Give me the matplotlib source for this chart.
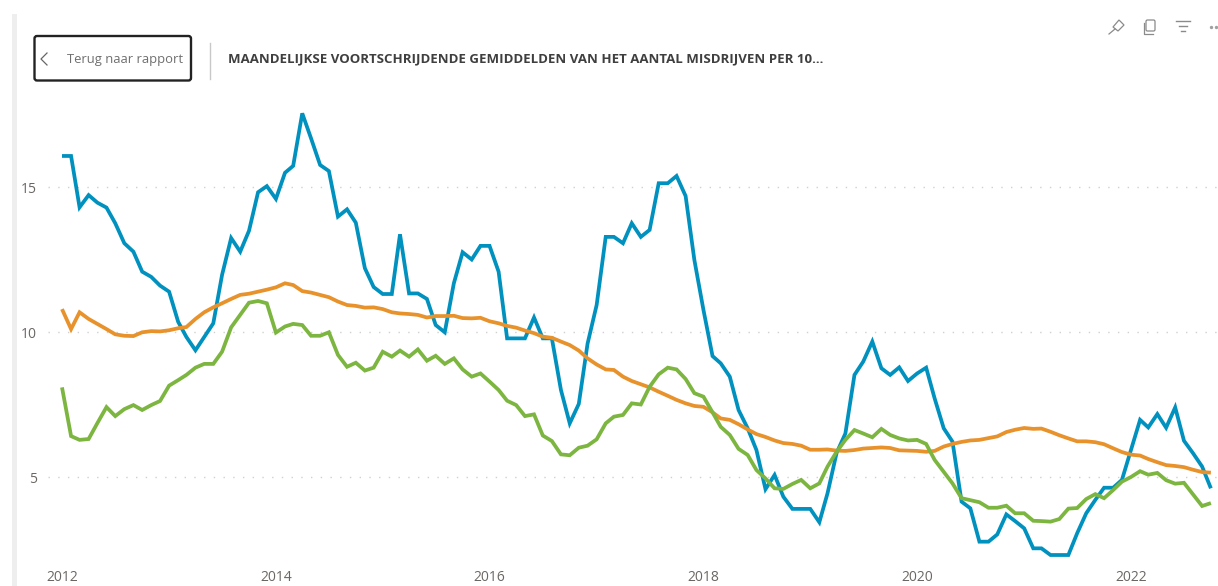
import matplotlib
matplotlib.use("Agg")
import matplotlib.pyplot as plt
import matplotlib.dates as mdates
from matplotlib.patches import FancyBboxPatch, Rectangle, Polygon
import pandas as pd

blue = [16.07,16.07,14.3,14.72,14.46,14.29,13.75,13.06,12.77,12.08,11.9,11.6,11.39,10.35,9.83,9.37,9.83,10.3,11.97,13.24,
        12.77,13.49,14.82,15.03,14.59,15.49,15.73,17.54,16.68,15.76,15.55,13.98,14.23,13.77,12.2,11.55,11.31,11.31,13.37,11.33,
        11.33,11.14,10.24,9.99,11.68,12.75,12.5,12.97,12.97,12.08,9.78,9.78,9.78,10.5,9.78,9.78,8.0,6.85,7.52,9.6,
        10.93,13.28,13.28,13.06,13.75,13.28,13.52,15.13,15.13,15.38,14.69,12.48,10.76,9.17,8.92,8.46,7.31,6.68,5.93,4.58,
        5.07,4.32,3.9,3.9,3.9,3.44,4.44,5.83,6.5,8.52,8.98,9.67,8.75,8.52,8.78,8.31,8.57,8.77,7.71,6.68,
        6.22,4.15,3.92,2.77,2.77,3.02,3.71,3.48,3.23,2.54,2.54,2.31,2.31,2.31,3.06,3.75,4.21,4.63,4.63,4.9,
        5.93,6.97,6.71,7.17,6.7,7.4,6.25,5.82,5.36,4.61]
orange = [10.79,10.1,10.68,10.45,10.28,10.1,9.92,9.87,9.86,9.99,10.03,10.02,10.06,10.13,10.17,10.45,10.68,10.85,10.99,11.14,
          11.28,11.32,11.39,11.46,11.54,11.68,11.62,11.41,11.36,11.28,11.2,11.05,10.93,10.9,10.84,10.85,10.79,10.68,10.64,10.62,
          10.59,10.5,10.55,10.55,10.56,10.48,10.47,10.49,10.37,10.3,10.21,10.15,10.05,9.96,9.84,9.8,9.67,9.55,9.36,9.09,
          8.88,8.71,8.69,8.46,8.31,8.2,8.09,7.94,7.8,7.66,7.54,7.45,7.42,7.23,7.02,6.97,6.82,6.64,6.48,6.38,
          6.26,6.17,6.14,6.08,5.94,5.94,5.95,5.91,5.9,5.93,5.98,6.0,6.02,6.0,5.92,5.91,5.9,5.87,5.9,6.05,
          6.14,6.21,6.26,6.28,6.34,6.4,6.55,6.63,6.69,6.66,6.67,6.56,6.44,6.33,6.23,6.23,6.2,6.13,5.99,5.86,
          5.77,5.74,5.62,5.51,5.41,5.38,5.34,5.25,5.17,5.15]
green = [8.09,6.41,6.28,6.31,6.86,7.41,7.1,7.34,7.48,7.31,7.48,7.62,8.15,8.34,8.52,8.77,8.9,8.9,9.32,10.16,
         10.59,11.01,11.07,10.99,9.98,10.19,10.28,10.24,9.87,9.87,9.99,9.21,8.8,8.94,8.67,8.77,9.32,9.15,9.36,9.15,
         9.4,9.01,9.18,8.9,9.09,8.71,8.46,8.57,8.29,8.0,7.63,7.48,7.1,7.16,6.43,6.24,5.78,5.75,6.01,6.08,
         6.3,6.85,7.08,7.14,7.54,7.5,8.11,8.54,8.77,8.71,8.38,7.89,7.77,7.23,6.73,6.45,5.97,5.76,5.24,4.95,
         4.61,4.59,4.76,4.9,4.61,4.78,5.36,5.87,6.28,6.62,6.5,6.37,6.66,6.45,6.33,6.26,6.28,6.14,5.59,5.18,
         4.78,4.27,4.2,4.13,3.94,3.94,4.01,3.75,3.75,3.49,3.48,3.46,3.55,3.91,3.93,4.24,4.41,4.27,4.55,4.84,
         5.0,5.2,5.08,5.14,4.89,4.77,4.8,4.4,4.0,4.1]
months = pd.date_range("2012-01-01", periods=len(blue), freq="MS")
year_ticks = [2012, 2014, 2016, 2018, 2020, 2022]
y_ticks = [5, 10, 15]
title = "MAANDELIJKSE VOORTSCHRIJDENDE GEMIDDELDEN VAN HET AANTAL MISDRIJVEN PER 10…"
button_label = "Terug naar rapport"

W, H = 1218, 586
plt.rcParams["font.family"] = ["Open Sans", "DejaVu Sans"]
fig = plt.figure(figsize=(W / 100, H / 100), dpi=100, facecolor="white")

# plot area in pixels
L, R, T, B = 48, 1218, 100, 566
ax = fig.add_axes([L / W, 1 - B / H, (R - L) / W, (B - T) / H])
ax.patch.set_alpha(0)
d0 = mdates.date2num(pd.Timestamp("2012-01-01"))
px_day = (1131 - 62) / (mdates.date2num(pd.Timestamp("2022-01-01")) - d0)
ax.set_xlim(d0 + (L - 62) / px_day, d0 + (R - 62) / px_day)
ax.set_ylim(5 + (477 - B) / 29, 5 + (477 - T) / 29)
for s in ax.spines.values():
    s.set_visible(False)
ax.xaxis_date()
ax.set_xticks([mdates.date2num(pd.Timestamp(f"{y}-01-01")) for y in year_ticks])
ax.set_xticklabels([str(y) for y in year_ticks])
ax.set_yticks(y_ticks)
ax.tick_params(axis="both", length=0, labelsize=10, labelcolor="#6b6663")
ax.tick_params(axis="x", pad=3)
ax.tick_params(axis="y", pad=8)
ax.grid(axis="y", color="#d0d0d0", linewidth=1, linestyle=(0, (1, 6)))
ax.set_axisbelow(True)
for vals, col in [(blue, "#0091BF"), (orange, "#E8922C"), (green, "#7CB53F")]:
    ax.plot(months, vals, color=col, linewidth=2.7, solid_joinstyle="miter", solid_capstyle="butt", clip_on=False)

# report chrome drawn in pixel coordinates
ov = fig.add_axes([0, 0, 1, 1], zorder=5)
ov.set_xlim(0, W)
ov.set_ylim(H, 0)
ov.axis("off")
ov.add_patch(Rectangle((12, 14), 4.5, H - 14, color="#eeeeee", lw=0))
ov.add_patch(FancyBboxPatch((34.5, 36), 156.5, 44.5, boxstyle="round,pad=0,rounding_size=2.5",
                            fc="white", ec="#222222", lw=1.7))
ov.plot([47, 41, 47], [53, 59, 65], color="#666666", lw=0.9)
ov.text(67, 60, button_label, fontsize=9.4, color="#6f6f6f", va="center", ha="left")
ov.plot([209.5, 209.5], [43, 79], color="#c8c8c8", lw=1)
ov.text(228, 59, title, fontsize=9.5, fontweight="bold", color="#3f3f3f", va="center", ha="left",
        family=["Open Sans", "DejaVu Sans"])

# header icons
ic = "#8a8a8a"
ov.add_patch(Polygon([[1113, 27], [1119, 20], [1124, 25], [1118, 31]], fill=False, ec=ic, lw=0.9))
ov.plot([1109, 1115], [34, 29], color=ic, lw=0.9)
ov.add_patch(FancyBboxPatch((1146, 20), 9, 11, boxstyle="round,pad=0,rounding_size=1.5", fill=False, ec=ic, lw=0.9))
ov.plot([1144, 1144, 1153], [23, 33.5, 33.5], color=ic, lw=0.9)
for yy, a, b in [(21, 1176, 1190), (26, 1179, 1187), (31, 1181, 1185)]:
    ov.plot([a, b], [yy, yy], color=ic, lw=1)
ov.plot([1211, 1216], [26.5, 26.5], ls="none", marker="o", ms=1.4, color="#a0a0a0")

fig.savefig("out.png", dpi=100, facecolor="white")
